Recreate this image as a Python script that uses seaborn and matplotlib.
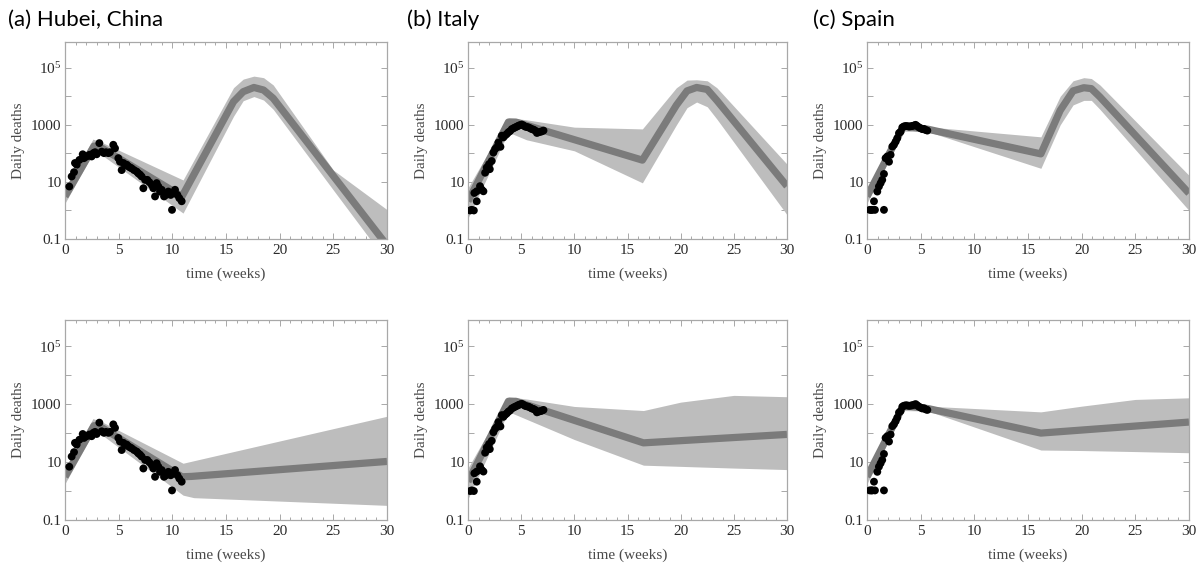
import numpy as np
import pandas as pd
import matplotlib
matplotlib.use("Agg")
import matplotlib.pyplot as plt
import seaborn as sns
from matplotlib.ticker import FixedLocator, FixedFormatter, MultipleLocator, NullLocator

# ---------------- observed daily deaths (dots) ----------------
hubei_t = [0.40, 0.62, 0.84, 0.93, 1.09, 1.34, 1.65, 1.77, 2.02, 2.27, 2.48, 2.64, 2.80, 2.95,
           3.20, 3.42, 3.63, 3.82, 4.04, 4.19, 4.50, 4.66, 4.97, 5.12, 5.28, 5.44, 5.59, 5.75,
           5.90, 6.06, 6.21, 6.43, 6.68, 6.83, 6.99, 7.14, 7.30, 7.46, 7.67, 7.86, 8.08, 8.23,
           8.39, 8.54, 8.70, 8.85, 9.01, 9.23, 9.41, 9.63, 9.85, 9.97, 10.10, 10.25, 10.47,
           10.65, 10.87]
hubei_d = [6.9, 15.5, 22, 46, 40, 59, 93, 68, 78, 89, 78, 102, 110, 93,
           229, 115, 102, 110, 102, 110, 200, 151, 68, 51, 26, 46, 40, 40,
           35, 32, 30, 26, 23, 20, 18, 15.5, 6.0, 11.8, 11.8, 9.8, 7.9, 6.0,
           3.1, 9.1, 6.9, 4.6, 5.3, 3.1, 3.5, 4.6, 3.5, 1.05, 4.1, 5.3, 3.5,
           2.7, 2.1]

italy_t = [0.20, 0.35, 0.55, 0.60, 0.82, 0.82, 1.13, 1.29, 1.45, 1.61, 1.76, 1.98, 2.05, 2.23,
           2.39, 2.55, 2.70, 2.86, 3.05, 3.18, 3.33, 3.50, 3.65, 3.80, 3.95, 4.12, 4.28, 4.43,
           4.60, 4.75, 4.90, 5.06, 5.22, 5.37, 5.53, 5.69, 5.85, 6.00, 6.16, 6.32, 6.48, 6.63,
           6.79, 6.94, 7.10]
italy_d = [1.0, 1.05, 1.0, 4.1, 4.7, 2.1, 7.1, 5.4, 4.7, 21, 32, 42, 28, 54,
           107, 141, 162, 240, 170, 417, 363, 430, 479, 550, 600, 708, 760, 813,
           870, 933, 980, 1020, 950, 871, 840, 813, 760, 708, 680, 630, 520, 550,
           570, 590, 630]

spain_t = [0.25, 0.40, 0.49, 0.65, 0.74, 0.96, 1.11, 1.27, 1.42, 1.58, 1.58, 1.73, 1.89, 2.05,
           2.20, 2.36, 2.51, 2.67, 2.82, 2.98, 3.13, 3.29, 3.45, 3.60, 3.76, 3.91, 4.07, 4.22,
           4.38, 4.53, 4.69, 4.84, 5.00, 5.15, 5.31, 5.46, 5.62]
spain_d = [1.05, 1.05, 1.05, 2.1, 1.05, 4.6, 6.9, 9.1, 11.8, 19, 1.05, 68, 78, 51,
           89, 174, 200, 257, 339, 513, 575, 813, 870, 912, 900, 871, 890, 912,
           950, 1000, 900, 813, 760, 708, 720, 660, 630]

# ---------------- model medians and bands (top row: scenario 1) ----------------
a1_line_t = [0, 2.7, 3.3, 10.9, 15.7, 16.6, 17.6, 18.5, 19.4, 30]
a1_line_v = [3.1, 180, 165, 3.1, 6500, 14500, 20400, 16600, 8500, 0.06]
a1_band_t = [0, 2.6, 3.3, 11.0, 15.7, 16.6, 17.6, 18.5, 19.4, 25, 30]
a1_band_hi = [5.2, 316, 257, 11.7, 20000, 40000, 51000, 45000, 25000, 26, 1.07]
a1_band_lo = [1.8, 100, 95, 0.81, 2000, 7000, 9800, 7400, 3500, 5.2, 0.016]

b1_line_t = [0, 3.8, 4.5, 16.4, 19.6, 20.6, 21.5, 22.5, 23.4, 30]
b1_line_v = [2.1, 1250, 1250, 58, 4900, 15500, 20400, 17400, 7200, 7.1]
b1_band_t = [0, 3.8, 5.5, 10, 16.4, 19.6, 20.6, 21.5, 22.5, 23.4, 30]
b1_band_hi = [6.2, 1780, 1500, 830, 720, 20000, 37000, 38000, 35000, 20000, 42]
b1_band_lo = [0.54, 550, 300, 123, 9.3, 1000, 4000, 6300, 4300, 1600, 0.71]

c1_line_t = [0, 3.4, 5.7, 16.2, 18.0, 19.2, 20.2, 20.9, 21.7, 30]
c1_line_v = [3.1, 900, 700, 96, 3200, 15500, 20000, 18600, 9500, 4]
c1_band_t = [0, 3.4, 5.7, 16.2, 18.0, 19.2, 20.2, 20.9, 21.7, 30]
c1_band_hi = [5.3, 1100, 850, 380, 10000, 35000, 45000, 42000, 25000, 17]
c1_band_lo = [1.8, 600, 575, 30, 1000, 5000, 7200, 7200, 3500, 1.0]

# ---------------- model medians and bands (bottom row: scenario 2) ----------------
a2_line_t = [0, 2.7, 3.3, 10.9, 11.8, 30]
a2_line_v = [3.1, 180, 165, 3.1, 3.2, 10.5]
a2_band_t = [0, 2.6, 3.3, 11.0, 12.0, 30]
a2_band_hi = [5.3, 316, 260, 9.1, 11.1, 380]
a2_band_lo = [1.8, 100, 95, 0.72, 0.59, 0.32]

b2_line_t = [0, 3.8, 4.5, 16.5, 30]
b2_line_v = [2.1, 1250, 1250, 46, 90]
b2_band_t = [0, 3.8, 5.5, 10, 16.5, 20, 25, 30]
b2_band_hi = [6.2, 1780, 1500, 830, 600, 1170, 2000, 1800]
b2_band_lo = [0.54, 550, 300, 60, 7.8, 7.1, 6.2, 5.5]

c2_line_t = [0, 3.4, 5.7, 16.2, 30]
c2_line_v = [3.1, 900, 700, 100, 240]
c2_band_t = [0, 3.4, 5.7, 16.2, 20, 25, 30]
c2_band_hi = [5.3, 1100, 850, 540, 850, 1450, 1650]
c2_band_lo = [1.8, 600, 575, 26, 25, 23, 21]

panel_titles = ["(a) Hubei, China", "(b) Italy", "(c) Spain"]
ytick_vals = [0.1, 1, 10, 100, 1000, 1e4, 1e5]
ytick_text = ["0.1", "", "10", "", "1000", "", r"$10^5$"]
xtick_vals = [0, 5, 10, 15, 20, 25, 30]

# ---------------- style ----------------
sns.set_theme(style="ticks")
plt.rcParams["font.family"] = ["Liberation Serif", "DejaVu Serif"]
plt.rcParams["mathtext.fontset"] = "custom"
plt.rcParams["mathtext.rm"] = "Liberation Serif"
plt.rcParams["mathtext.it"] = "Liberation Serif:italic"

BAND = "#bdbdbd"
LINE = "#7b7b7b"
FRAME = "#a8a8a8"
TXT = "#2a2a2a"
LBL = "#4a4a4a"

W, H = 1197, 564
fig = plt.figure(figsize=(W / 100, H / 100), dpi=100)

col_left = [65, 468, 867]
col_width = [322, 319, 322]
row_top = [42, 320]
row_height = [197, 200]

obs = [(hubei_t, hubei_d), (italy_t, italy_d), (spain_t, spain_d)]
models = [
    [(a1_line_t, a1_line_v, a1_band_t, a1_band_lo, a1_band_hi),
     (b1_line_t, b1_line_v, b1_band_t, b1_band_lo, b1_band_hi),
     (c1_line_t, c1_line_v, c1_band_t, c1_band_lo, c1_band_hi)],
    [(a2_line_t, a2_line_v, a2_band_t, a2_band_lo, a2_band_hi),
     (b2_line_t, b2_line_v, b2_band_t, b2_band_lo, b2_band_hi),
     (c2_line_t, c2_line_v, c2_band_t, c2_band_lo, c2_band_hi)],
]

for r in range(2):
    for c in range(3):
        rect = [col_left[c] / W, 1 - (row_top[r] + row_height[r]) / H,
                col_width[c] / W, row_height[r] / H]
        ax = fig.add_axes(rect)
        lt, lv, bt, blo, bhi = models[r][c]
        ax.fill_between(bt, blo, bhi, color=BAND, lw=0, zorder=1)
        sns.lineplot(x=lt, y=lv, ax=ax, color=LINE, lw=5.2, estimator=None,
                     sort=False, zorder=2, solid_capstyle="butt", solid_joinstyle="round")
        ot, od = obs[c]
        sns.scatterplot(x=ot, y=od, ax=ax, color="black", s=32, edgecolor="none",
                        zorder=3, legend=False)
        ax.set_yscale("log")
        ax.set_xlim(0, 30)
        ax.set_ylim(0.1, 8e5)
        ax.yaxis.set_major_locator(FixedLocator(ytick_vals))
        ax.yaxis.set_major_formatter(FixedFormatter(ytick_text))
        ax.yaxis.set_minor_locator(NullLocator())
        ax.xaxis.set_major_locator(FixedLocator(xtick_vals))
        ax.xaxis.set_minor_locator(MultipleLocator(1))
        ax.tick_params(which="both", direction="in", top=True, right=True,
                       color=FRAME, labelcolor=TXT, labelsize=11, width=0.7)
        ax.tick_params(which="major", length=4.5)
        ax.tick_params(which="minor", length=2.5)
        ax.tick_params(axis="y", pad=2.5)
        ax.tick_params(axis="x", pad=3.5)
        for sp in ax.spines.values():
            sp.set_color(FRAME)
            sp.set_linewidth(0.9)
        ax.set_xlabel("time (weeks)", fontsize=11, color=LBL)
        ax.set_ylabel("Daily deaths", fontsize=11, color=LBL)
        ax.xaxis.set_label_coords(0.5, -29 / row_height[r])
        ax.yaxis.set_label_coords(-40 / col_width[c], 0.5)

title_x = [8, 407, 813]
for c in range(3):
    fig.text(title_x[c] / W, 1 - 20 / H, panel_titles[c], fontfamily=["Lato", "DejaVu Sans"],
             fontsize=16, va="center", ha="left", color="black")

fig.savefig("out.png", dpi=100)
